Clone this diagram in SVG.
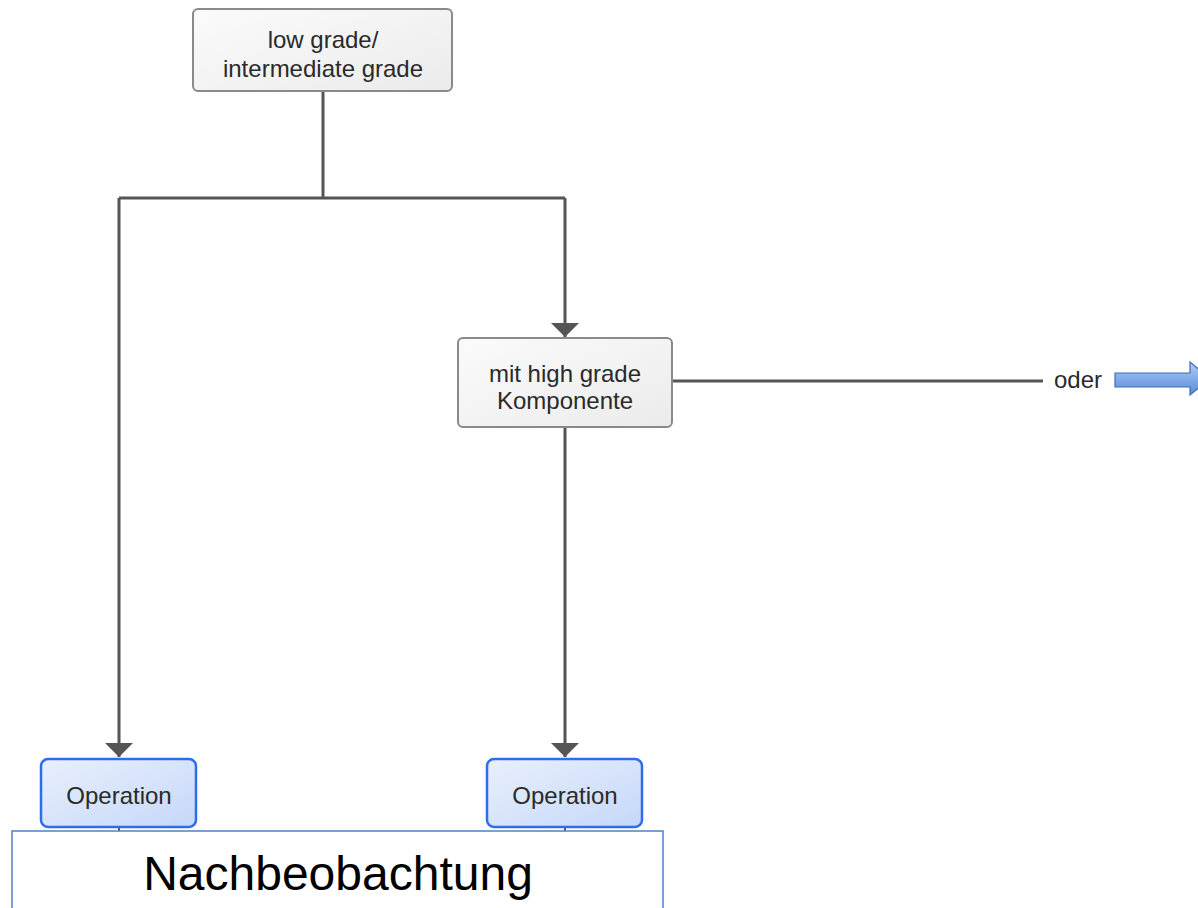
<svg xmlns="http://www.w3.org/2000/svg" width="1198" height="908" viewBox="0 0 1198 908">
  <defs>
    <linearGradient id="grayFill" x1="0" y1="0" x2="1" y2="1">
      <stop offset="0" stop-color="#fbfbfb"/>
      <stop offset="1" stop-color="#ebebeb"/>
    </linearGradient>
    <linearGradient id="blueFill" x1="0" y1="0" x2="1" y2="1">
      <stop offset="0" stop-color="#e9f0fd"/>
      <stop offset="1" stop-color="#c5d7f8"/>
    </linearGradient>
    <linearGradient id="bigArrowFill" x1="0" y1="0" x2="0" y2="1">
      <stop offset="0" stop-color="#b3cff5"/>
      <stop offset="0.5" stop-color="#82abe8"/>
      <stop offset="1" stop-color="#5b8dd8"/>
    </linearGradient>
    <!-- triangular arrowhead, tip at the end of the line -->
    <marker id="head" markerWidth="15" markerHeight="28" refX="14" refY="14" markerUnits="userSpaceOnUse" orient="auto" viewBox="0 0 15 28">
      <path d="M0,0 L14,14 L0,28 Z" fill="#555"/>
    </marker>
  </defs>
  <style>
    .box { fill: url(#grayFill); stroke: #8a8a8a; stroke-width: 2; }
    .op { fill: url(#blueFill); stroke: #2c6df0; stroke-width: 2.5; }
    .lbl { font-family: "Liberation Sans", Arial, sans-serif; font-size: 24px; fill: #2a2a2a; text-anchor: middle; }
    .wire { fill: none; stroke: #555; stroke-width: 3; }
  </style>
  <rect width="1198" height="908" fill="#ffffff"/>

  <!-- connectors -->
  <g id="connectors">
    <polyline class="wire" points="323,91 323,198"/>
    <polyline class="wire" points="119,198 565,198"/>
    <polyline class="wire" points="119,198 119,757" marker-end="url(#head)"/>
    <polyline class="wire" points="565,198 565,337" marker-end="url(#head)"/>
    <polyline class="wire" points="565,427 565,757" marker-end="url(#head)"/>
    <polyline class="wire" points="672,381 1043,381"/>
    <line x1="119" y1="827" x2="119" y2="832" stroke="#555" stroke-width="2"/>
    <line x1="565" y1="827" x2="565" y2="832" stroke="#555" stroke-width="2"/>
  </g>

  <g id="node-grade">
    <rect class="box" x="193" y="9" width="259" height="82" rx="5"/>
    <text class="lbl" x="323" y="48">low grade/</text>
    <text class="lbl" x="323" y="77">intermediate grade</text>
  </g>

  <g id="node-highgrade">
    <rect class="box" x="458" y="338" width="214" height="89" rx="5"/>
    <text class="lbl" x="565" y="382">mit high grade</text>
    <text class="lbl" x="565" y="409">Komponente</text>
  </g>

  <g id="node-oder">
    <text class="lbl" x="1078" y="388">oder</text>
    <path d="M1115,373 L1190,373 L1190,362 L1210,378.5 L1190,395 L1190,387 L1115,387 Z" fill="url(#bigArrowFill)" stroke="#3f6fb5" stroke-width="1.2"/>
  </g>

  <g id="node-op-left">
    <rect class="op" x="41" y="759" width="155" height="68" rx="7"/>
    <text class="lbl" x="119" y="804">Operation</text>
  </g>

  <g id="node-op-right">
    <rect class="op" x="487" y="759" width="155" height="68" rx="7"/>
    <text class="lbl" x="565" y="804">Operation</text>
  </g>

  <g id="node-followup">
    <rect x="12" y="831" width="651" height="90" fill="#ffffff" stroke="#4f81bd" stroke-width="1.5"/>
    <text x="338" y="890" font-family="Liberation Sans, Arial, sans-serif" font-size="48" fill="#000" text-anchor="middle">Nachbeobachtung</text>
  </g>
</svg>
